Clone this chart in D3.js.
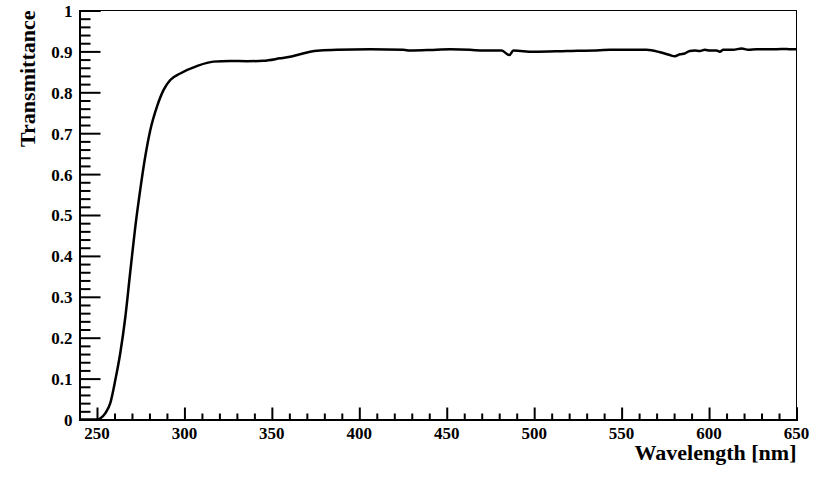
<!DOCTYPE html>
<html>
<head>
<meta charset="utf-8">
<script src="https://cdn.jsdelivr.net/npm/d3@7/dist/d3.min.js"></script>
<style>
    body { margin: 0; background: #fff; }
    svg text { font-family: "Liberation Serif", "Times New Roman", serif; font-weight: bold; fill: #000; }
</style>
</head>
<body>
<svg width="830" height="478"></svg>
<script>
var wavelength = [240, 250, 252, 254.7, 257.6, 260.5, 263.3, 266.2, 269, 271.9, 274.7, 277.6, 280.5,
    284.3, 288.1, 291.9, 297.6, 307.1, 316.6, 326.2, 335.7, 345.2, 354.7, 360.4, 366, 371.9, 377.6,
    387.1, 406.2, 425.2, 429, 444.2, 451.9, 463.3, 471, 481.4, 485.8, 488.1, 499.5, 518.6, 537.6,
    543.3, 564.3, 571.9, 577.6, 580.4, 583.3, 586.1, 589, 591.8, 594.7, 597.6, 600.5, 604.3, 606.2,
    608.1, 613.8, 618.6, 622.4, 627.1, 632.9, 638.6, 644.3, 647.1, 650];
var transmittance = [0, 0, 0.003, 0.015, 0.04, 0.097, 0.162, 0.25, 0.36, 0.471, 0.561, 0.643, 0.708,
    0.765, 0.806, 0.83, 0.846, 0.864, 0.875, 0.8765, 0.876, 0.877, 0.883, 0.887, 0.893, 0.899, 0.902,
    0.904, 0.905, 0.904, 0.902, 0.904, 0.905, 0.904, 0.902, 0.902, 0.891, 0.902, 0.899, 0.901, 0.903,
    0.904, 0.904, 0.898, 0.891, 0.888, 0.893, 0.895, 0.901, 0.902, 0.901, 0.904, 0.902, 0.902, 0.899,
    0.904, 0.904, 0.907, 0.904, 0.9055, 0.9055, 0.9055, 0.906, 0.905, 0.9055];

var xMajor = [250, 300, 350, 400, 450, 500, 550, 600, 650];
var xLabels = ["250", "300", "350", "400", "450", "500", "550", "600", "650"];
var yMajor = [0, 0.1, 0.2, 0.3, 0.4, 0.5, 0.6, 0.7, 0.8, 0.9, 1];
var yLabels = ["0", "0.1", "0.2", "0.3", "0.4", "0.5", "0.6", "0.7", "0.8", "0.9", "1"];

var svg = d3.select("svg");
var padL = 79.5, padR = 796.5, padT = 10.5, padB = 419.5;

var x = d3.scaleLinear().domain([240, 650]).range([padL, padR]);
var y = d3.scaleLinear().domain([0, 1]).range([padB, padT]);

// frame
svg.append("rect")
    .attr("x", padL).attr("y", padT)
    .attr("width", padR - padL).attr("height", padB - padT)
    .attr("fill", "none").attr("stroke", "#000").attr("stroke-width", 1);

// x axis, ticks pointing inward
var xMinor = d3.range(240, 651, 10).filter(function(v) { return xMajor.indexOf(v) < 0; });
var gx = svg.append("g").attr("transform", "translate(0," + padB + ")");
gx.call(d3.axisTop(x).tickValues(xMinor).tickSize(6).tickFormat(""));
gx.append("g").call(d3.axisTop(x).tickValues(xMajor).tickSize(12).tickFormat(""));
gx.selectAll("path.domain").attr("stroke-width", 2);
gx.selectAll(".tick line").attr("stroke-width", 2);
gx.selectAll(".xl").data(xMajor).enter().append("text")
    .attr("class", "xl")
    .attr("x", function(d) { return x(d); })
    .attr("y", 19)
    .attr("text-anchor", "middle")
    .style("font-size", "17px")
    .text(function(d, i) { return xLabels[i]; });

// y axis, ticks pointing inward
var yMinor = d3.range(0, 51).map(function(i) { return i / 50; })
    .filter(function(v) { return Math.abs(v * 10 - Math.round(v * 10)) > 1e-6; });
var gy = svg.append("g").attr("transform", "translate(" + padL + ",0)");
gy.call(d3.axisRight(y).tickValues(yMinor).tickSize(11).tickFormat(""));
gy.append("g").call(d3.axisRight(y).tickValues(yMajor).tickSize(21).tickFormat(""));
gy.selectAll("path.domain").attr("stroke-width", 2);
gy.selectAll(".tick line").attr("stroke-width", 2);
gy.selectAll(".yl").data(yMajor).enter().append("text")
    .attr("class", "yl")
    .attr("x", -7)
    .attr("y", function(d) { return y(d); })
    .attr("dy", "0.38em")
    .attr("text-anchor", "end")
    .style("font-size", "17px")
    .text(function(d, i) { return yLabels[i]; });

// titles
svg.append("text")
    .attr("x", padR).attr("y", 460)
    .attr("text-anchor", "end")
    .style("font-size", "22px")
    .text("Wavelength [nm]");
svg.append("text")
    .attr("transform", "translate(35," + padT + ") rotate(-90)")
    .attr("text-anchor", "end")
    .style("font-size", "22px")
    .text("Transmittance");

// curve
var pts = wavelength.map(function(w, i) { return [w, transmittance[i]]; });
var line = d3.line()
    .x(function(d) { return x(d[0]); })
    .y(function(d) { return y(d[1]); })
    .curve(d3.curveMonotoneX);
svg.append("path")
    .datum(pts)
    .attr("d", line)
    .attr("fill", "none")
    .attr("stroke", "#000")
    .attr("stroke-width", 2.5)
    .attr("stroke-linejoin", "round");
</script>
</body>
</html>
